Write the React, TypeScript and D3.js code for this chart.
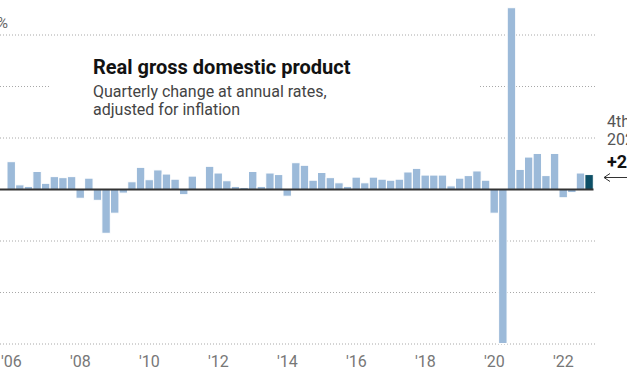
import React from "react";
import * as d3 from "d3";

const years = d3.range(2006, 2023);
const quarters = ["Q1", "Q2", "Q3", "Q4"];
const periods: string[] = years.flatMap((y) => quarters.map((q) => `${y}${q}`));

const gdpChange: number[] = [
  5.4, 0.9, 0.6, 3.5,
  1.2, 2.5, 2.3, 2.5,
  -1.7, 2.2, -2.1, -8.5,
  -4.6, -0.7, 1.5, 4.3,
  1.9, 3.8, 3.0, 2.0,
  -1.0, 2.6, -0.1, 4.5,
  3.2, 1.7, 0.6, 0.4,
  3.5, 0.6, 3.2, 2.9,
  -1.3, 5.2, 4.7, 1.8,
  3.3, 2.3, 1.3, 0.6,
  2.4, 1.3, 2.4, 2.0,
  1.8, 2.0, 3.4, 4.1,
  2.8, 2.8, 2.8, 0.7,
  2.2, 2.7, 3.6, 1.8,
  -4.6, -29.9, 35.3, 3.9,
  6.3, 7.0, 2.7, 7.0,
  -1.6, -0.6, 3.2, 2.9,
];

const gridValues = [30, 20, 10, -10, -20, -30];
const topGridLabel = "30%";
const axisYears = [2006, 2008, 2010, 2012, 2014, 2016, 2018, 2020, 2022];

const title = "Real gross domestic product";
const subtitle = ["Quarterly change at annual rates,", "adjusted for inflation"];
const annotation = ["4th quarter", "2022"];
const latestLabel = "+2.9%";

const W = 627;
const H = 376;
const FONT = "Roboto, 'Liberation Sans', Arial, sans-serif";

export default function App() {
  const x = d3
    .scaleBand<string>()
    .domain(periods)
    .range([7, 593.5])
    .paddingInner(0)
    .paddingOuter(0);
  const y = d3.scaleLinear().domain([-30, 30]).range([344, 35]);
  const bw = x.bandwidth();
  const y0 = y(0);

  return (
    <svg
      width={W}
      height={H}
      style={{ position: "absolute", left: 0, top: 0, background: "#fff" }}
      fontFamily={FONT}
    >
      {/* gridlines */}
      {gridValues.map((v) => (
        <line
          key={v}
          x1={0}
          x2={596}
          y1={y(v)}
          y2={y(v)}
          stroke="#a8a8a8"
          strokeWidth={1}
          strokeDasharray="1 2"
        />
      ))}
      <text x={8} y={y(30) - 7} fontSize={15} fill="#666" textAnchor="end">
        {topGridLabel}
      </text>

      {/* title block background */}
      <rect x={50} y={46} width={428} height={78} fill="#fff" />
      <text x={93} y={74} fontSize={20} fontWeight={700} fill="#121212">
        {title}
      </text>
      {subtitle.map((s, i) => (
        <text key={s} x={93} y={97 + i * 17.5} fontSize={16} fill="#444">
          {s}
        </text>
      ))}

      {/* bars */}
      {gdpChange.map((v, i) => {
        const p = periods[i];
        const last = i === gdpChange.length - 1;
        return (
          <rect
            key={p}
            x={x(p)!}
            width={bw - 0.2}
            y={Math.min(y(v), y0)}
            height={Math.abs(y(v) - y0)}
            fill={last ? "#0d4f66" : "#9cbad9"}
            stroke="#fff"
            strokeWidth={1}
          />
        );
      })}

      {/* baseline */}
      <line x1={0} x2={593.5} y1={y0} y2={y0} stroke="#333" strokeWidth={2} />

      {/* x axis labels */}
      {axisYears.map((yr) => (
        <text
          key={yr}
          x={x(`${yr}Q1`)! + bw / 2}
          y={367}
          fontSize={16}
          fill="#777"
          textAnchor="middle"
        >
          {"'" + String(yr).slice(2)}
        </text>
      ))}

      {/* annotation */}
      {annotation.map((s, i) => (
        <text key={s} x={607} y={127 + i * 17.5} fontSize={16} fill="#555">
          {s}
        </text>
      ))}
      <text x={607} y={168} fontSize={18} fontWeight={700} fill="#121212">
        {latestLabel}
      </text>
      <line x1={604} x2={640} y1={177.5} y2={177.5} stroke="#333" strokeWidth={1} />
      <polyline
        points="610,173.5 604,177.5 610,181.5"
        fill="none"
        stroke="#333"
        strokeWidth={1}
      />
    </svg>
  );
}
